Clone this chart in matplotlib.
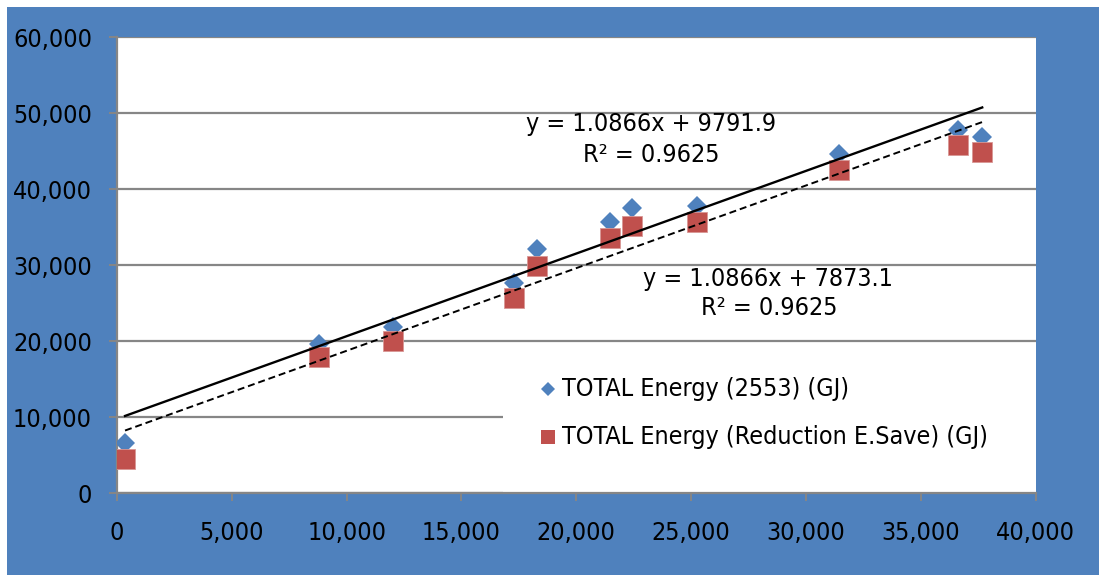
import matplotlib
matplotlib.use("Agg")
import matplotlib.pyplot as plt
from matplotlib.patches import Rectangle
from matplotlib.ticker import FuncFormatter, MultipleLocator
import numpy as np

# Energy data (GJ)
x_vals = [350, 8800, 12000, 17270, 18310, 21450, 22420, 25260, 31430, 36610, 37680]
total_2553 = [6580, 19600, 21850, 27680, 32070, 35620, 37460, 37810, 44610, 47770, 46890]
total_saved = [4470, 17900, 20000, 25620, 29910, 33510, 35130, 35700, 42500, 45800, 44910]

series_labels = ["TOTAL Energy (2553) (GJ)", "TOTAL Energy (Reduction E.Save) (GJ)"]

# Linear trendlines as reported
slope_2553, icpt_2553, r2_2553 = 1.0866, 9791.9, 0.9625
slope_saved, icpt_saved, r2_saved = 1.0866, 7873.1, 0.9625

BLUE = "#4F81BD"
RED = "#C0504D"
GRID = "#868686"

plt.rcParams["font.family"] = ["DejaVu Sans"]
FS = 18
FSTRETCH = "condensed"

W, H = 1099, 575
fig = plt.figure(figsize=(W / 100, H / 100), dpi=100, facecolor="white")

# Blue chart-area background
bg = fig.add_axes([7 / W, 0, 1 - 7 / W, 1 - 7 / H], zorder=0)
bg.set_facecolor(BLUE)
bg.set_xticks([])
bg.set_yticks([])
for s in bg.spines.values():
    s.set_visible(False)

ax = fig.add_axes([117 / W, 1 - 493.3 / H, 918.5 / W, 456.3 / H], zorder=1)
ax.set_facecolor("white")
ax.set_xlim(0, 40000)
ax.set_ylim(0, 60000)
ax.xaxis.set_major_locator(MultipleLocator(5000))
ax.yaxis.set_major_locator(MultipleLocator(10000))
fmt = FuncFormatter(lambda v, p: f"{int(v):,}")
ax.xaxis.set_major_formatter(fmt)
ax.yaxis.set_major_formatter(fmt)
ax.set_axisbelow(True)
ax.grid(axis="y", color=GRID, linewidth=1.6)
for side in ["top", "right"]:
    ax.spines[side].set_visible(False)
for side in ["left", "bottom"]:
    ax.spines[side].set_color(GRID)
    ax.spines[side].set_linewidth(1.6)
ax.tick_params(direction="out", length=6, width=1.4, color=GRID, labelsize=FS, pad=12)
ax.tick_params(axis="x", pad=14)
for lab in ax.get_xticklabels() + ax.get_yticklabels():
    lab.set_fontstretch(FSTRETCH)

# Legend background
ax.add_patch(Rectangle((0.42, 0), 0.58, 0.314, transform=ax.transAxes,
                       facecolor="white", edgecolor="none", zorder=1))

# Trendlines over the data range
xs = np.array([min(x_vals), max(x_vals)])
ax.plot(xs, slope_2553 * xs + icpt_2553, color="black", lw=1.7, zorder=4)
ax.plot(xs, slope_saved * xs + icpt_saved, color="black", lw=1.4, dashes=(3.6, 2.0), zorder=4)

ax.plot(x_vals, total_2553, linestyle="none", marker="D", ms=10.3, color=BLUE,
        markeredgewidth=0, zorder=3)
ax.plot(x_vals, total_saved, linestyle="none", marker="s", ms=14.4, color=RED,
        markeredgecolor="#D99795", markeredgewidth=0.6, zorder=3)


def px_text(px, py, s, **kw):
    fig.text(px / W, 1 - py / H, s, fontsize=FS, fontstretch=FSTRETCH, zorder=6, **kw)


px_text(651, 124, f"y = {slope_2553}x + {icpt_2553}", ha="center", va="center")
px_text(651, 155, f"R² = {r2_2553}", ha="center", va="center")
px_text(768, 279, f"y = {slope_saved}x + {icpt_saved}", ha="center", va="center")
px_text(769, 308, f"R² = {r2_saved}", ha="center", va="center")

# Legend entries
leg_items = [(series_labels[0], "D", 7.5, BLUE, 389), (series_labels[1], "s", 10.5, RED, 437)]
for label, mk, ms, col, py in leg_items:
    fig.add_artist(plt.Line2D([548 / W], [1 - py / H], transform=fig.transFigure,
                              marker=mk, ms=ms, color=col, linestyle="none",
                              markeredgewidth=0, zorder=6))
    px_text(562, py, label, ha="left", va="center")

fig.savefig("out.png", dpi=100, facecolor="white")
